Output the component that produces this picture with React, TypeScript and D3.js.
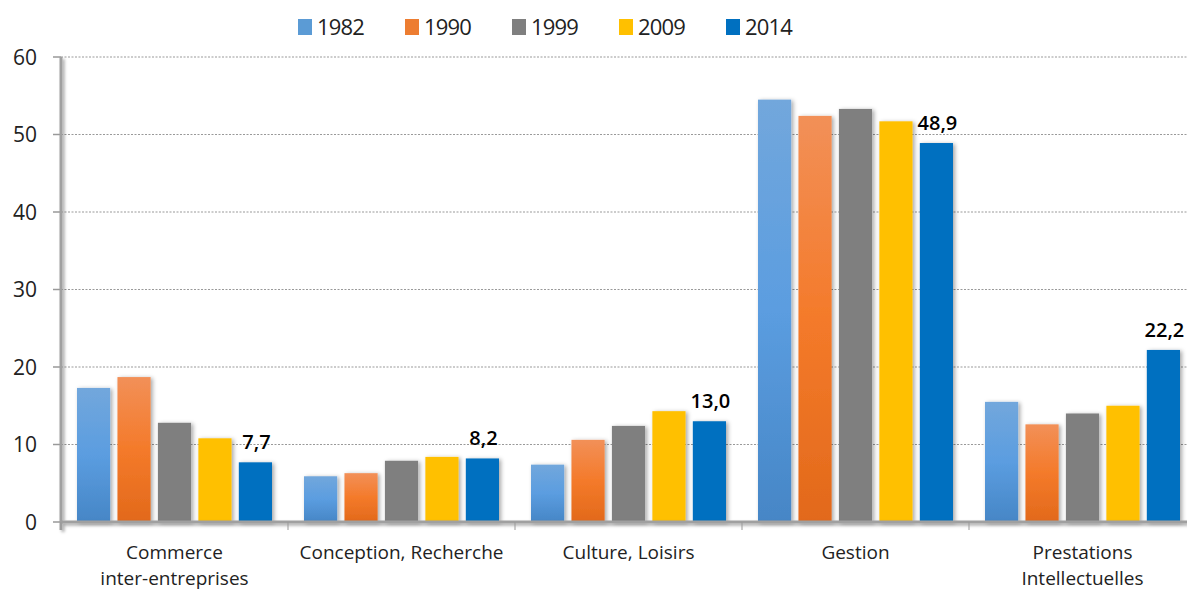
import React from 'react'
import * as d3 from 'd3'

const categories = [
  ['Commerce', 'inter-entreprises'],
  ['Conception, Recherche'],
  ['Culture, Loisirs'],
  ['Gestion'],
  ['Prestations', 'Intellectuelles'],
]
const years = ['1982', '1990', '1999', '2009', '2014']
const values1982 = [17.3, 5.9, 7.4, 54.5, 15.5]
const values1990 = [18.7, 6.3, 10.6, 52.4, 12.6]
const values1999 = [12.8, 7.9, 12.4, 53.3, 14.0]
const values2009 = [10.8, 8.4, 14.3, 51.7, 15.0]
const values2014 = [7.7, 8.2, 13.0, 48.9, 22.2]
const yTicks = [0, 10, 20, 30, 40, 50, 60]

const series = [values1982, values1990, values1999, values2009, values2014]
const fills = ['url(#g1982)', 'url(#g1990)', '#7f7f7f', '#ffc000', '#0070c0']
const swatch = ['#5b9bd5', '#ed7d31', '#7f7f7f', '#ffc000', '#0070c0']

const W = 1187
const H = 592
const left = 61
const bottom = 522
const top = 57
const font = "'Open Sans', 'Noto Sans', sans-serif"

export default function App() {
  const x = d3.scaleBand<number>()
    .domain(categories.map((_, i) => i))
    .range([left, left + 5 * 227])
  const inner = d3.scaleBand<number>()
    .domain(years.map((_, i) => i))
    .range([16, 227 - 16])
    .paddingInner(0.18)
  const y = d3.scaleLinear().domain([0, 60]).range([bottom, top])
  const cx = (ci: number) => (x(ci) ?? 0) + x.bandwidth() / 2

  return (
    <div style={{ position: 'fixed', left: 0, top: 0 }}>
      <svg width={W} height={H} style={{ display: 'block', background: '#fff' }} fontFamily={font}>
        <defs>
          <linearGradient id="g1982" x1="0" y1="0" x2="0" y2="1">
            <stop offset="0" stopColor="#72a7dc" />
            <stop offset="0.5" stopColor="#5b9de0" />
            <stop offset="1" stopColor="#4686c6" />
          </linearGradient>
          <linearGradient id="g1990" x1="0" y1="0" x2="0" y2="1">
            <stop offset="0" stopColor="#f29058" />
            <stop offset="0.5" stopColor="#f47a2a" />
            <stop offset="1" stopColor="#e2691b" />
          </linearGradient>
          <filter id="shadow" x="-30%" y="-10%" width="160%" height="130%">
            <feDropShadow dx="2" dy="1" stdDeviation="2" floodColor="#000" floodOpacity="0.35" />
          </filter>
          <filter id="axshadow" filterUnits="userSpaceOnUse" x="0" y="0" width={W} height={H}>
            <feDropShadow dx="2" dy="2" stdDeviation="1.5" floodColor="#000" floodOpacity="0.35" />
          </filter>
        </defs>

        {/* legend */}
        {years.map((yr, i) => (
          <g key={yr} transform={`translate(${298 + i * 107},0)`}>
            <rect x={0} y={19} width={14} height={16} fill={swatch[i]} />
            <text x={19} y={35} fontSize={22} fill="#222" letterSpacing={-0.8}>{yr}</text>
          </g>
        ))}

        {/* grid */}
        {yTicks.filter(t => t > 0).map(t => (
          <line key={t} x1={left} x2={W} y1={y(t)} y2={y(t)} stroke="#999" strokeDasharray="2,1.5" strokeWidth={1} />
        ))}

        {/* y axis ticks */}
        {yTicks.map(t => (
          <g key={t}>
            <line x1={53} x2={left} y1={y(t)} y2={y(t)} stroke="#999" strokeWidth={1.5} />
            <text x={37} y={y(t) + 7.5} fontSize={21} textAnchor="end" fill="#222">{t}</text>
          </g>
        ))}

        {/* bars */}
        {categories.map((_, ci) => (
          <g key={ci} transform={`translate(${x(ci)},0)`}>
            {series.map((vals, si) => (
              <rect key={si} x={inner(si)} y={y(vals[ci])} width={inner.bandwidth()}
                height={bottom - y(vals[ci])} fill={fills[si]} filter="url(#shadow)" />
            ))}
            <text x={(inner(4) ?? 0) + inner.bandwidth() / 2 + 1} y={y(values2014[ci]) - 13}
              fontSize={20} fontWeight={600} textAnchor="middle" fill="#000">
              {d3.format('.1f')(values2014[ci]).replace('.', ',')}
            </text>
          </g>
        ))}

        {/* axes */}
        <g filter="url(#axshadow)">
          <rect x={left - 1.5} y={top} width={3} height={bottom - top + 8} fill="#a0a0a0" />
          <rect x={left} y={bottom - 1.5} width={W - left} height={3} fill="#a0a0a0" />
        </g>
        {categories.map((_, ci) => (
          <line key={ci} x1={x(ci)} x2={x(ci)} y1={bottom} y2={bottom + 8} stroke="#999" strokeWidth={1} />
        ))}

        {/* category labels */}
        {categories.map((lines, ci) => (
          <text key={ci} x={cx(ci)} y={559} fontSize={19} textAnchor="middle" fill="#222">
            {lines.map((l, li) => (
              <tspan key={li} x={cx(ci)} dy={li === 0 ? 0 : 26}>{l}</tspan>
            ))}
          </text>
        ))}
      </svg>
    </div>
  )
}
